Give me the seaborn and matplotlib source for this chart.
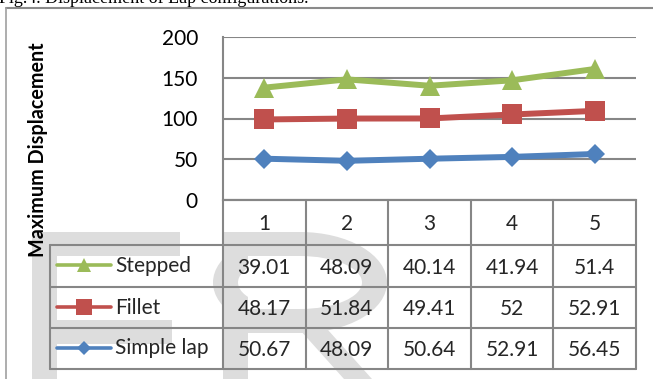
import matplotlib
matplotlib.use("Agg")
import matplotlib.pyplot as plt
import matplotlib.patches as mpatches
import numpy as np
import pandas as pd
import seaborn as sns

sns.set_style("white")
plt.rcParams["font.family"] = ["Lato", "DejaVu Sans"]

# ---- data -------------------------------------------------------------
cases = [1, 2, 3, 4, 5]
series_names = ["Stepped", "Fillet", "Simple lap"]
stepped = [39.01, 48.09, 40.14, 41.94, 51.4]
fillet = [48.17, 51.84, 49.41, 52, 52.91]
simple_lap = [50.67, 48.09, 50.64, 52.91, 56.45]
y_ticks = [0, 50, 100, 150, 200]
caption = "Fig.4. Displacement of Lap configurations."
y_label = "Maximum Displacement"

values = {"Stepped": stepped, "Fillet": fillet, "Simple lap": simple_lap}
colors = {"Stepped": "#9BBB59", "Fillet": "#C0504D", "Simple lap": "#4F81BD"}
markers = {"Stepped": "^", "Fillet": "s", "Simple lap": "D"}
marker_size = {"Stepped": 14.5, "Fillet": 14.0, "Simple lap": 9.8}
key_marker_size = {"Stepped": 10.5, "Fillet": 11.0, "Simple lap": 7.2}

# stacked line chart: each series sits on top of the ones below it
stack_order = ["Simple lap", "Fillet", "Stepped"]
rows = []
running = np.zeros(len(cases))
for name in stack_order:
    running = running + np.array(values[name])
    for c, v in zip(cases, running):
        rows.append({"case": c, "series": name, "value": v})
df = pd.DataFrame(rows)

# ---- layout (pixels) --------------------------------------------------
W, H = 653, 379
plot_l, plot_r, plot_t, plot_b = 223, 636, 37, 200
table_l = 50
row_edges = [200, 245, 287, 328, 369]
grid_col = "#868686"
wm_col = "#DDDDDD"
fs = 15

fig = plt.figure(figsize=(W / 100, H / 100), dpi=100)
fig.patch.set_facecolor("white")

bg = fig.add_axes([0, 0, 1, 1], zorder=0)
bg.set_xlim(0, W)
bg.set_ylim(H, 0)
bg.axis("off")

# light watermark lettering behind everything
for (x, y, w, h) in [(32, 232, 25, 147), (32, 232, 148, 24), (32, 320, 140, 24),
                     (223, 232, 25, 147), (223, 232, 77, 101)]:
    bg.add_patch(mpatches.Rectangle((x, y), w, h, color=wm_col, lw=0, zorder=0))
bg.add_patch(mpatches.Ellipse((300, 282.5), 174, 101, color=wm_col, lw=0, zorder=0))
bg.add_patch(mpatches.Rectangle((248, 256), 52, 53, color="white", lw=0, zorder=0.1))
bg.add_patch(mpatches.Ellipse((300, 282.5), 124, 53, color="white", lw=0, zorder=0.1))
bg.add_patch(mpatches.Polygon([(300, 330), (328, 330), (372, 379), (344, 379)],
                              closed=True, color=wm_col, lw=0, zorder=0.2))

# outer frame
bg.plot([6, W], [8, 8], color="#8a8a8a", lw=1.5, zorder=1)
bg.plot([6, 6], [8, H], color="#a0a0a0", lw=1.2, zorder=1)

# caption text (runs off the top edge)
fig.text(-1 / W, 1 - 3 / H, caption, family="Liberation Serif", fontsize=13,
         va="baseline", ha="left", color="black")

# ---- line chart -------------------------------------------------------
ax = fig.add_axes([plot_l / W, 1 - plot_b / H, (plot_r - plot_l) / W,
                   (plot_b - plot_t) / H], zorder=1)
ax.set_facecolor("none")
for name in stack_order:
    sub = df[df["series"] == name]
    sns.lineplot(data=sub, x="case", y="value", ax=ax, color=colors[name],
                 marker=markers[name], markersize=marker_size[name],
                 markeredgewidth=0, linewidth=4.3, errorbar=None,
                 legend=False, clip_on=False, zorder=3)
ax.set_xlim(0.5, len(cases) + 0.5)
ax.set_ylim(0, 200)
ax.set_yticks(y_ticks)
ax.set_xticks([])
ax.set_xlabel("")
ax.set_ylabel("")
ax.grid(axis="y", color=grid_col, lw=1.5)
ax.set_axisbelow(True)
ax.tick_params(axis="y", length=0, pad=18, labelsize=fs, labelcolor="black")
for side in ["top", "right"]:
    ax.spines[side].set_visible(False)
for side in ["left", "bottom"]:
    ax.spines[side].set_color(grid_col)
    ax.spines[side].set_linewidth(1.5)

bg.text(38, 150, y_label, rotation=90, ha="center", va="center",
        fontsize=14.2, fontweight="bold", color="black")

# ---- data table under the chart --------------------------------------
col_edges = np.linspace(plot_l, plot_r, len(cases) + 1)
col_centers = (col_edges[:-1] + col_edges[1:]) / 2
bg.plot([plot_l, plot_r], [row_edges[0]] * 2, color=grid_col, lw=1.5, zorder=2)
for y in row_edges[1:]:
    bg.plot([table_l, plot_r], [y, y], color=grid_col, lw=1.5, zorder=2)
bg.plot([table_l, table_l], [row_edges[1], row_edges[-1]], color=grid_col, lw=1.5, zorder=2)
for x in col_edges:
    bg.plot([x, x], [row_edges[0], row_edges[-1]], color=grid_col, lw=1.5, zorder=2)

header_y = (row_edges[0] + row_edges[1]) / 2
for xc, c in zip(col_centers, cases):
    bg.text(xc, header_y + 7.5, str(c), ha="center", va="baseline", fontsize=fs, zorder=3)

for i, name in enumerate(series_names):
    yc = (row_edges[i + 1] + row_edges[i + 2]) / 2
    bg.plot([57, 111], [yc - 1, yc - 1], color=colors[name], lw=2.6,
            solid_capstyle="round", zorder=3)
    bg.plot([84], [yc - 1], marker=markers[name], color=colors[name],
            markersize=key_marker_size[name], markeredgewidth=0, zorder=4)
    bg.text(115, yc + 6, name, ha="left", va="baseline", fontsize=fs, zorder=3)
    for xc, v in zip(col_centers, values[name]):
        bg.text(xc, yc + 7.5, f"{v:g}", ha="center", va="baseline", fontsize=fs, zorder=3)

fig.savefig("out.png", dpi=100)
